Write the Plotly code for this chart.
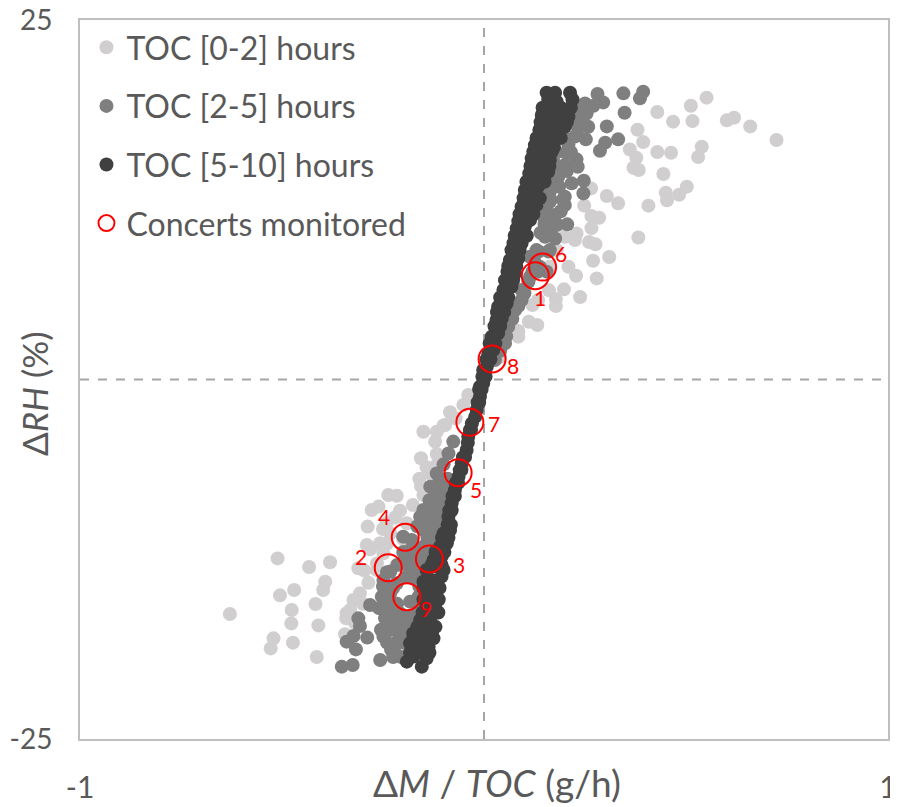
import plotly.graph_objects as go

FONT = "Lato"
TXT = "#595959"

light_x = [.551,.512,.429,.468,.516,.601,.619,.659,.724,.380,.394,.361,.429,.463,.539,.530,.377,.370,.383,.444,.502,.450,.483,.453,.407,.332,.304,.265,.248,.266,.285,.266,.382,.229,.225,.200,.260,.276,.310,.270,.209,.228,.279,.198,.161,.238,.178,.178,.120,.111,.132,.085,.085,.180,.163,.040,.134,
 -.629,-.511,-.433,-.381,-.393,-.398,-.470,-.505,-.417,-.476,-.477,-.410,-.521,-.473,-.528,-.414,-.344,-.341,-.331,-.307,-.286,-.311,-.296,-.265,-.290,-.282,-.257,-.288,-.278,-.261,-.237,-.216,-.208,-.176,-.156,-.156,-.142,-.117,-.117,-.150,-.117,-.121,-.096,-.084,-.051,-.039,-.241,-.249,-.265,-.323,-.340,-.150,-.232,-.191,
 -.100,-.070,-.130,-.160,-.320,-.300,-.240,-.250,-.220,-.200]
light_y = [19.60,19.04,18.60,17.93,17.97,18.02,18.21,17.60,16.65,17.37,16.51,16.00,15.82,15.77,16.19,15.47,15.42,14.73,14.57,14.29,13.41,12.99,12.85,12.46,12.09,12.25,12.76,13.29,12.09,11.37,11.25,10.53,9.88,10.16,9.70,9.93,9.56,9.40,8.52,8.26,7.84,7.22,7.03,6.27,6.20,5.73,5.60,5.11,5.18,4.02,3.79,3.37,2.98,9.00,7.84,1.58,5.53,
 -16.31,-12.44,-13.04,-12.71,-14.06,-14.64,-14.64,-15.01,-15.61,-16.03,-16.96,-17.10,-18.00,-18.30,-18.70,-19.30,-17.72,-16.61,-16.03,-14.87,-14.13,-13.13,-13.29,-12.79,-11.51,-11.81,-11.39,-10.23,-9.08,-8.84,-8.03,-8.08,-9.12,-8.73,-7.41,-5.48,-6.11,-5.95,-5.18,-3.63,-3.63,-4.32,-3.16,-2.28,-1.77,-1.08,-10.00,-12.09,-13.25,-15.33,-16.26,-8.03,-10.70,-10.00,
 -3.20,-2.70,-6.60,-6.90,-16.90,-15.60,-11.40,-10.40,-9.60,-11.10]

gray_x = [.281,.345,.394,.386,.295,.271,.254,.348,.229,.304,.258,.233,.252,.332,.300,.287,.209,.205,.229,.200,.232,.184,.247,.217,.246,.186,.163,.200,.163,.200,.176,.147,.206,.159,.180,.151,.176,.130,.138,.134,.114,.093,.093,.077,.060,.052,.027,.163,.114,
 .040,.055,.070,.085,.100,.110,.120,.155,.125,.135,.160,.140,.165,.150,.180,.155,.190,.165,.195,.165,.185,.205,.175,.180,.215,.195,.225,.225,.245,.215,.240,.250,
 -.076,-.088,-.117,-.133,-.100,-.109,-.150,-.125,-.142,-.117,-.158,-.150,-.129,-.179,-.200,-.150,-.167,-.191,-.142,-.232,-.175,-.249,-.216,-.191,-.158,-.253,-.232,-.183,-.162,-.282,-.241,-.245,-.208,-.183,-.311,-.307,-.323,-.340,-.289,-.317,-.249,-.232,-.208,-.220,-.257,-.352,-.325,-.220,
 -.100,-.110,-.090,-.120,-.095,-.135,-.105,-.130,-.110,-.165,-.125,-.105,-.140,-.115,-.180,-.130,-.200,-.145,-.215,-.190,-.165,-.145,-.175,-.150,-.250,-.235,-.160,-.215,-.165,-.225,-.160,-.230,-.205,-.175,-.255,-.215,-.190,-.240,-.200,-.230,-.225,-.205,
 -.240,-.225,-.205,-.260,-.235]
gray_y = [19.85,19.90,20.01,19.55,19.27,19.04,18.51,18.55,18.62,17.60,17.58,17.46,16.70,16.70,16.47,15.91,16.30,15.73,15.31,14.91,14.80,14.10,13.82,13.64,12.94,13.41,13.06,12.71,12.36,12.13,11.44,11.32,10.79,10.63,10.74,9.93,9.81,9.00,7.84,7.50,7.15,6.22,5.53,4.83,3.67,2.51,1.35,9.00,8.54,
 2.00,3.00,4.20,5.10,6.00,6.80,7.50,7.50,8.20,8.90,8.90,10.20,10.20,10.80,10.80,11.70,11.70,12.50,12.50,13.80,14.50,14.50,15.00,15.80,15.80,16.90,16.90,17.90,17.90,18.80,18.80,19.20,
 -4.32,-5.14,-6.53,-7.45,-7.22,-8.15,-9.08,-8.84,-9.77,-9.77,-9.54,-10.47,-10.70,-11.16,-10.93,-11.63,-12.32,-12.55,-12.55,-13.36,-13.25,-13.94,-14.17,-13.71,-13.48,-15.10,-14.87,-15.45,-15.10,-15.68,-16.03,-16.61,-16.26,-16.49,-16.61,-17.14,-17.84,-18.23,-17.95,-18.77,-17.88,-17.42,-17.88,-19.04,-19.51,-19.97,-19.85,-18.35,
 -5.90,-6.90,-6.90,-7.70,-7.70,-8.40,-8.40,-9.30,-9.30,-10.20,-10.20,-10.20,-11.00,-11.00,-11.80,-11.80,-12.00,-12.00,-12.90,-12.90,-12.90,-12.90,-13.80,-13.80,-14.40,-14.40,-14.40,-15.60,-15.60,-16.00,-16.00,-16.90,-16.90,-16.90,-17.40,-17.40,-17.40,-18.30,-18.30,-18.80,-19.30,-19.30,
 -13.40,-14.50,-12.80,-15.90,-15.30]

dark_x = [.155,.176,.213,.159,.180,.219,.143,.163,.188,.209,.137,.159,.184,.200,.126,.147,.173,.118,.143,.163,.112,.134,.159,.101,.122,.134,.093,.114,.130,.081,.101,.114,.073,.093,.064,.085,.058,.077,.048,.068,.035,.056,.031,.044,.019,.035,.011,.023,-.002,.007,-.010,
 .145,.165,.190,.215,.140,.165,.190,.205,.130,.150,.172,.190,.122,.145,.168,.115,.138,.162,.105,.128,.150,.098,.118,.138,.088,.108,.122,.085,.100,.076,.096,.106,.068,.088,.060,.080,.052,.072,.040,.060,.032,.050,.026,.040,.014,.028,.006,.016,-.004,.004,-.006,-.012,
 -.002,-.010,-.018,-.030,-.039,-.043,-.055,-.063,-.072,-.080,-.088,-.100,-.084,-.109,-.092,-.125,-.105,-.150,-.129,-.105,-.142,-.121,-.142,-.121,-.175,-.150,-.129,-.183,-.162,-.137,-.191,-.175,-.154,-.142,-.133,-.158,-.100,-.117,-.142,
 -.012,-.016,-.022,-.032,-.035,-.040,-.047,-.052,-.056,-.060,-.064,-.070,-.072,-.078,-.080,-.086,-.090,-.082,-.104,-.088,-.120,-.098,-.130,-.105,-.115,-.150,-.130,-.110,-.150,-.125,-.112,-.152,-.130,-.113,-.165,-.140,-.120,-.175,-.150,-.125,-.183,-.160,-.135]
dark_y = [19.94,19.94,19.94,19.43,19.32,19.48,18.39,18.51,18.51,18.27,17.35,17.46,17.46,17.58,16.30,16.30,16.14,15.38,15.38,15.26,14.33,14.33,14.45,13.18,13.18,13.41,12.02,12.02,12.13,10.51,10.63,11.09,9.47,9.47,8.31,8.42,7.50,7.38,6.22,6.45,5.06,5.29,4.14,4.25,2.98,3.21,1.82,2.05,.66,.89,-.50,
 18.90,18.90,18.90,18.90,17.90,17.90,17.90,17.90,16.80,16.80,16.80,16.80,15.85,15.85,15.85,14.85,14.85,14.85,13.75,13.75,13.75,12.60,12.60,12.60,11.50,11.50,11.50,11.00,11.00,10.00,10.00,10.00,9.00,9.00,7.90,7.90,6.90,6.90,5.70,5.70,4.70,4.70,3.70,3.70,2.50,2.50,1.40,1.40,.20,.20,-.70,-.70,
 -.27,-1.19,-2.12,-3.05,-3.98,-4.90,-5.83,-6.76,-7.69,-8.61,-9.54,-10.70,-10.47,-11.63,-11.39,-12.55,-12.32,-14.06,-13.94,-13.71,-14.87,-14.87,-15.80,-15.80,-17.65,-17.42,-17.65,-18.35,-18.58,-18.58,-19.62,-19.27,-19.97,-19.39,-16.72,-16.72,-13.25,-13.00,-13.25,
 -1.60,-1.60,-2.60,-3.50,-3.50,-4.40,-5.40,-5.40,-6.30,-6.30,-7.20,-7.20,-8.10,-8.10,-9.10,-9.10,-10.10,-10.10,-11.00,-11.00,-12.00,-12.00,-12.90,-12.90,-12.90,-14.50,-14.50,-14.50,-15.30,-15.30,-15.30,-16.20,-16.20,-16.20,-17.20,-17.20,-17.20,-18.00,-18.00,-18.00,-19.00,-19.00,-19.00]

concert_x = [.127,-.237,-.135,-.195,-.064,.145,-.035,.020,-.191]
concert_y = [7.22,-13.09,-12.48,-10.97,-6.48,7.82,-2.98,1.43,-15.10]
concert_labels = ["1","2","3","4","5","6","7","8","9"]
label_x = [.139,-.304,-.062,-.248,-.020,.191,.025,.072,-.144]
label_y = [5.67,-12.34,-12.83,-9.56,-7.68,8.73,-3.09,.94,-15.89]

fig = go.Figure()
series = [("TOC [0-2] hours", light_x, light_y, "#d0cece"),
          ("TOC [2-5] hours", gray_x, gray_y, "#7f7f7f"),
          ("TOC [5-10] hours", dark_x, dark_y, "#404040")]
for i, (name, xs, ys, col) in enumerate(series):
    fig.add_trace(go.Scatter(x=xs, y=ys, mode="markers", name=name, legendgroup=f"g{i}",
                             marker=dict(size=14, color=col, line=dict(width=0))))
fig.add_trace(go.Scatter(x=concert_x, y=concert_y, mode="markers", name="Concerts monitored",
                         legendgroup="g3",
                         marker=dict(size=27, symbol="circle-open", color="#ff0000", line=dict(width=2, color="#ff0000"))))
for lx, ly, t in zip(label_x, label_y, concert_labels):
    fig.add_annotation(x=lx, y=ly, text=t, showarrow=False, font=dict(family=FONT, size=21, color="#ff0000"))

fig.add_annotation(xref="paper", yref="paper", x=(497-80)/808, y=-(782-739)/719, text="Δ<i>M</i> / <i>TOC</i> (g/h)",
                   showarrow=False, yanchor="middle", font=dict(family=FONT, size=37, color=TXT))
fig.add_annotation(xref="paper", yref="paper", x=-(80-34)/808, y=(739-394)/719, text="Δ<i>RH</i> (%)", textangle=-90,
                   showarrow=False, xanchor="center", yanchor="middle", font=dict(family=FONT, size=35, color=TXT))

dash = dict(color="#a6a6a6", width=2, dash="dash")
fig.add_shape(type="line", xref="x", yref="y", x0=0, x1=0, y0=-25, y1=25, line=dash, layer="below")
fig.add_shape(type="line", xref="x", yref="y", x0=-1, x1=1, y0=0, y1=0, line=dash, layer="below")

axis_common = dict(showgrid=False, zeroline=False, showline=True, mirror=True, linewidth=2, linecolor="#bfbfbf",
                   ticks="", automargin=False, ticklabeloverflow="allow")
fig.update_xaxes(range=[-1, 1], tickvals=[-1, 1], ticktext=["-1", "1"], ticklabelstandoff=21,
                 tickfont=dict(family=FONT, size=30, color=TXT), **axis_common)
fig.update_yaxes(range=[-25, 25], tickvals=[-25, 25], ticktext=["-25", "25"], ticklabelstandoff=20,
                 tickfont=dict(family=FONT, size=28, color=TXT), **axis_common)

# the page's default 8 px body margin offsets the figure, so the figure is 8 px smaller and margins account for it
fig.update_layout(width=890, height=799, autosize=False, paper_bgcolor="white", plot_bgcolor="white",
                  margin=dict(l=72, r=10, t=12, b=68), hovermode=False,
                  legend=dict(x=0.008, y=1.0, xanchor="left", yanchor="top", bgcolor="rgba(0,0,0,0)",
                              traceorder="grouped", tracegroupgap=14, itemsizing="trace", itemwidth=30,
                              font=dict(family=FONT, size=32, color=TXT)))
fig.write_html("out.html")
